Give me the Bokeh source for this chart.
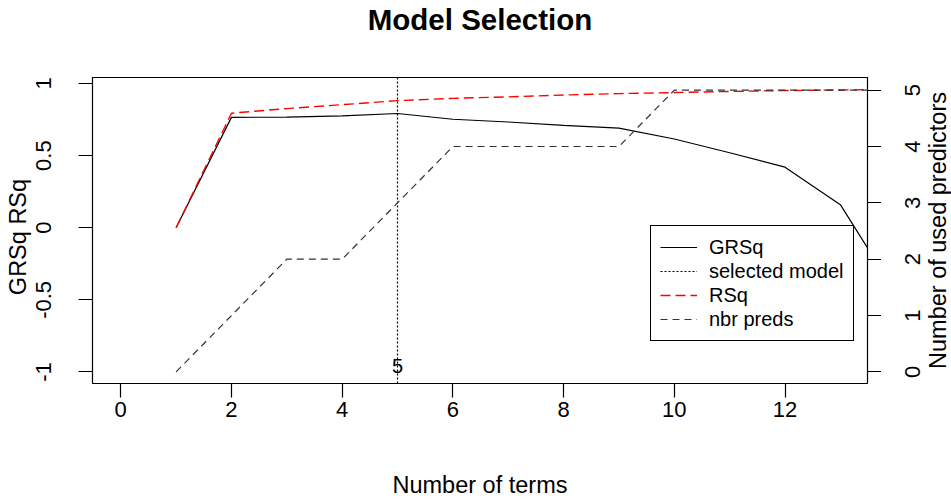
import math
from bokeh.plotting import figure
from bokeh.layouts import row, column
from bokeh.models import Range1d, LinearAxis, FixedTicker, Legend, LegendItem, Label
from bokeh.embed import file_html
from bokeh.resources import INLINE

# ---- data ----
title_text = "Model Selection"
x_label = "Number of terms"
y_label = "GRSq   RSq"
y2_label = "Number of used predictors"

n_terms = [1, 2, 3, 4, 5, 6, 7, 8, 9, 10, 11, 12, 13, 14]
grsq = [0.0, 0.765, 0.767, 0.776, 0.792, 0.752, 0.733, 0.71, 0.69, 0.615, 0.52, 0.42, 0.16, -0.45]
rsq = [0.0, 0.794, 0.826, 0.853, 0.881, 0.897, 0.907, 0.92, 0.93, 0.937, 0.945, 0.951, 0.955, 0.958]
nbr_preds = [0, 1, 2, 2, 3, 4, 4, 4, 4, 5, 5, 5, 5, 5]
selected_terms = 5

x_ticks = [0, 2, 4, 6, 8, 10, 12]
y_ticks = [-1, -0.5, 0, 0.5, 1]
y_tick_labels = ["-1", "-0.5", "0", "0.5", "1"]
y2_ticks = [0, 1, 2, 3, 4, 5]
y2_tick_labels = ["0", "1", "2", "3", "4", "5"]
legend_labels = ["GRSq", "selected model", "RSq", "nbr preds"]

FONT = "Liberation Sans"
TICK_SIZE = "22px"
LAB_SIZE = "23.5px"

TITLE_H = 40
TOP, BOTTOM = 77 - TITLE_H, 118
MAIN_W, STRIP_W, W, H = 881, 70, 951, 501 - TITLE_H

preds_range = Range1d(-0.206, 5.225)

# ---- title strip ----
t = figure(width=W, height=TITLE_H, output_backend="svg", toolbar_location=None,
           x_range=Range1d(0, W), y_range=Range1d(0, TITLE_H),
           min_border_left=0, min_border_right=0, min_border_top=0, min_border_bottom=0,
           x_axis_location=None, y_axis_location=None,
           background_fill_color="white", border_fill_color="white")
t.outline_line_color = None
t.grid.visible = False
t.add_layout(Label(x=(92 + 867) / 2, y=TITLE_H - 19, text=title_text, text_align="center",
                   text_baseline="middle", text_font=FONT, text_font_size="29.5px",
                   text_font_style="bold", text_color="black"))

# ---- main plot ----
p = figure(width=MAIN_W, height=H, output_backend="svg", toolbar_location=None,
           x_range=Range1d(-0.51, 13.49), y_range=Range1d(-1.08, 1.0415),
           min_border_left=92, min_border_right=14, min_border_top=TOP, min_border_bottom=BOTTOM,
           background_fill_color="white", border_fill_color="white")
p.extra_y_ranges = {"preds": preds_range}

p.grid.visible = False
p.outline_line_color = "black"
p.outline_line_width = 1.2
p.outline_line_alpha = 1.0

# right axis: tick marks only (its labels are written in the strip to the right)
right = LinearAxis(y_range_name="preds", ticker=FixedTicker(ticks=y2_ticks))
right.major_label_overrides = {v: "" for v in y2_ticks}
right.major_label_text_font_size = "0px"
right.major_label_standoff = 0
p.add_layout(right, "right")

p.xaxis[0].ticker = FixedTicker(ticks=x_ticks)
p.yaxis[0].ticker = FixedTicker(ticks=y_ticks)
p.yaxis[0].major_label_overrides = {v: s for v, s in zip(y_ticks, y_tick_labels)}

p.xaxis[0].axis_label = x_label
p.yaxis[0].axis_label = y_label

for ax in [p.xaxis[0], p.yaxis[0], right]:
    ax.axis_line_color = None
    ax.major_tick_out = 14
    ax.major_tick_in = 0
    ax.minor_tick_out = 0
    ax.minor_tick_in = 0
    ax.major_tick_line_color = "black"
    ax.major_tick_line_width = 1.2
    ax.axis_label_text_font = FONT
    ax.axis_label_text_font_size = LAB_SIZE
    ax.axis_label_text_font_style = "normal"
    ax.axis_label_text_color = "black"
for ax in [p.xaxis[0], p.yaxis[0]]:
    ax.major_label_text_font = FONT
    ax.major_label_text_font_size = TICK_SIZE
    ax.major_label_text_color = "black"
    ax.major_label_text_line_height = 1.0
    ax.axis_label_text_line_height = 1.0

p.xaxis[0].major_label_standoff = 4
p.xaxis[0].axis_label_standoff = 52
p.yaxis[0].major_label_orientation = "vertical"
p.yaxis[0].major_label_standoff = 27
p.yaxis[0].axis_label_standoff = 3

# ---- glyphs ----
r_grsq = p.line(n_terms, grsq, line_color="black", line_width=1.2)
r_sel = p.vspan(x=[selected_terms], line_color="black", line_dash="2 2", line_width=1.2)
r_rsq = p.line(n_terms, rsq, line_color="#FF0000", line_dash="10 5", line_width=1.4)
r_np = p.line(n_terms, nbr_preds, y_range_name="preds", line_color="#333333",
              line_dash="7 5", line_width=1.2)

p.add_layout(Label(x=selected_terms, y=y_ticks[0], y_offset=6, text=str(selected_terms),
                   text_align="center", text_baseline="alphabetic",
                   text_font="Liberation Sans Narrow, Liberation Sans",
                   text_font_size="20px", text_color="black"))

legend = Legend(items=[LegendItem(label=l, renderers=[r]) for l, r in
                       zip(legend_labels, [r_grsq, r_sel, r_rsq, r_np])],
                location=(558, 42), orientation="vertical",
                border_line_color="black", border_line_width=1.2, border_line_alpha=1.0,
                background_fill_color="white", background_fill_alpha=1.0,
                label_text_font=FONT, label_text_font_size="20px", label_text_color="black",
                glyph_width=37, glyph_height=24, label_height=24, spacing=0,
                padding=9, label_standoff=12, margin=0, label_width=133)
p.add_layout(legend)

# ---- strip on the right: labels of the predictor axis, written upward ----
s = figure(width=STRIP_W, height=H, output_backend="svg", toolbar_location=None,
           x_range=Range1d(0, STRIP_W), y_range=preds_range,
           min_border_left=0, min_border_right=0, min_border_top=TOP, min_border_bottom=BOTTOM,
           x_axis_location=None, y_axis_location=None,
           background_fill_color="white", border_fill_color="white")
s.outline_line_color = None
s.grid.visible = False
for v, lab in zip(y2_ticks, y2_tick_labels):
    s.add_layout(Label(x=31, y=v, text=lab, angle=math.pi / 2, text_align="center",
                       text_baseline="middle", text_font=FONT,
                       text_font_size=TICK_SIZE, text_color="black"))
s.add_layout(Label(x=56, y=(preds_range.start + preds_range.end) / 2, text=y2_label,
                   angle=math.pi / 2, text_align="center", text_baseline="middle",
                   text_font=FONT, text_font_size=LAB_SIZE, text_color="black"))

layout = column(t, row(p, s, spacing=0), spacing=0)
open("out.html", "w").write(file_html(layout, INLINE))
